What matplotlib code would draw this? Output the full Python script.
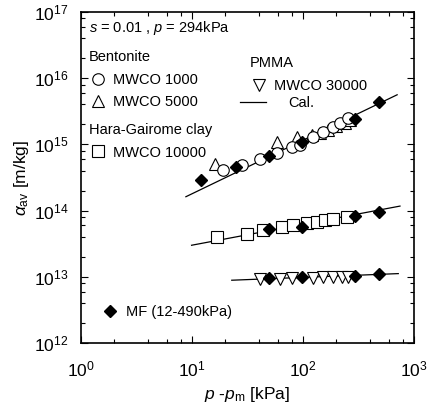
import matplotlib
matplotlib.use('Agg')
from matplotlib import pyplot as plt
from matplotlib.lines import Line2D
from matplotlib.ticker import LogLocator, NullFormatter

plt.rcParams['font.family'] = ['Liberation Sans', 'DejaVu Sans']
plt.rcParams['mathtext.fontset'] = 'custom'
plt.rcParams['mathtext.rm'] = 'Liberation Sans'
plt.rcParams['mathtext.it'] = 'Liberation Sans:italic'
plt.rcParams['mathtext.bf'] = 'Liberation Sans:bold'

# data: p - pm [kPa] vs alpha_av [m/kg]
bent1000_dp = [19, 28, 41, 58, 79, 94, 123, 152, 187, 215, 254]
bent1000_alpha = [4.1e14, 4.8e14, 6.0e14, 7.3e14, 9.2e14, 9.8e14, 1.31e15, 1.56e15, 1.85e15, 2.13e15, 2.47e15]

bent5000_dp = [16, 58, 88, 120, 142, 168, 200, 239, 265]
bent5000_alpha = [5.1e14, 1.07e15, 1.3e15, 1.38e15, 1.5e15, 1.66e15, 1.88e15, 2.1e15, 2.35e15]

clay_dp = [16.7, 31, 44, 64, 82, 108, 133, 158, 187, 248]
clay_alpha = [4.0e13, 4.5e13, 5.1e13, 5.7e13, 6.0e13, 6.4e13, 6.7e13, 7.1e13, 7.6e13, 8.1e13]

pmma_dp = [41, 62, 79, 123, 152, 187, 223, 254]
pmma_alpha = [9.2e12, 9.4e12, 9.5e12, 9.7e12, 9.8e12, 9.9e12, 1.0e13, 1.0e13]

mf_bent_dp = [12, 25, 49, 97, 294, 487]
mf_bent_alpha = [2.9e14, 4.5e14, 6.6e14, 1.07e15, 2.45e15, 4.3e15]
mf_clay_dp = [49, 97, 294, 487]
mf_clay_alpha = [5.2e13, 5.7e13, 8.3e13, 9.6e13]
mf_pmma_dp = [49, 97, 294, 487]
mf_pmma_alpha = [9.5e12, 1.0e13, 1.02e13, 1.1e13]

# calculated lines (straight in log-log)
cal_bent_dp = [8.8, 705]
cal_bent_alpha = [1.62e14, 5.6e15]
cal_clay_dp = [9.9, 748]
cal_clay_alpha = [3.0e13, 1.17e14]
cal_pmma_dp = [22.8, 722]
cal_pmma_alpha = [8.9e12, 1.12e13]

fig = plt.figure(figsize=(4.29, 4.08), dpi=100)
ax = fig.add_axes([0.189, 0.159, 0.776, 0.812])

open_kw = dict(linestyle='none', markerfacecolor='white', markeredgecolor='black', markeredgewidth=0.8)
mf_kw = dict(linestyle='none', marker='D', markersize=6.3, color='black', zorder=5)

for dp, a in [(cal_bent_dp, cal_bent_alpha), (cal_clay_dp, cal_clay_alpha), (cal_pmma_dp, cal_pmma_alpha)]:
    ax.plot(dp, a, color='black', linewidth=0.9, zorder=2)

ax.plot(bent5000_dp, bent5000_alpha, marker='^', markersize=8.5, zorder=3, **open_kw)
ax.plot(bent1000_dp, bent1000_alpha, marker='o', markersize=8.3, zorder=3, **open_kw)
ax.plot(clay_dp, clay_alpha, marker='s', markersize=8.5, zorder=3, **open_kw)
ax.plot(pmma_dp, pmma_alpha, marker='v', markersize=8.5, zorder=3, **open_kw)
ax.plot(mf_bent_dp, mf_bent_alpha, **mf_kw)
ax.plot(mf_clay_dp, mf_clay_alpha, **mf_kw)
ax.plot(mf_pmma_dp, mf_pmma_alpha, **mf_kw)

ax.set_xscale('log')
ax.set_yscale('log')
ax.set_xlim(1, 1000)
ax.set_ylim(1e12, 1e17)
ax.xaxis.set_minor_locator(LogLocator(base=10, subs=[2, 4, 6, 8]))
ax.yaxis.set_minor_locator(LogLocator(base=10, subs=[2, 4, 6, 8]))
ax.xaxis.set_minor_formatter(NullFormatter())
ax.yaxis.set_minor_formatter(NullFormatter())
ax.tick_params(which='both', direction='in', top=True, right=True, width=0.8)
ax.tick_params(which='major', length=5, labelsize=12.5)
ax.tick_params(axis='x', which='major', pad=12)
ax.tick_params(axis='y', which='major', pad=9)
ax.tick_params(which='minor', length=3)
for s in ax.spines.values():
    s.set_linewidth(1.2)

ax.set_xlabel(r'$p$ -$p_{\rm m}$ [kPa]', fontsize=12.5, labelpad=4)
ax.set_ylabel(r'$\alpha_{\rm av}$ [m/kg]', fontsize=12.5, labelpad=2)

ax.text(0.024, 0.952, r'$s$ = 0.01 , $p$ = 294kPa', transform=ax.transAxes,
        fontsize=10.5, va='center', ha='left')

leg_kw = dict(frameon=False, fontsize=10.5, title_fontsize=10.5, alignment='left',
              borderpad=0, borderaxespad=0, handletextpad=0.45, handlelength=1.2,
              labelspacing=0.6, loc='upper left')


def h(marker, ms):
    return Line2D([], [], marker=marker, markersize=ms, **open_kw)


leg1 = ax.legend([h('o', 8.3), h('^', 8.5)], ['MWCO 1000', 'MWCO 5000'], title='Bentonite',
                 bbox_to_anchor=(0.024, 0.885), **leg_kw)
ax.add_artist(leg1)
leg2 = ax.legend([h('s', 8.5)], ['MWCO 10000'], title='Hara-Gairome clay',
                 bbox_to_anchor=(0.024, 0.665), **leg_kw)
ax.add_artist(leg2)
leg3 = ax.legend([h('v', 8.5)], ['MWCO 30000'], title='PMMA',
                 bbox_to_anchor=(0.508, 0.866), **leg_kw)
ax.add_artist(leg3)
cal_kw = dict(leg_kw)
cal_kw.update(handlelength=1.8, handletextpad=1.5)
leg4 = ax.legend([Line2D([], [], color='black', linewidth=0.9)], ['Cal.'],
                 bbox_to_anchor=(0.477, 0.745), **cal_kw)
ax.add_artist(leg4)
mf_leg_kw = dict(leg_kw)
mf_leg_kw.update(handletextpad=0.5)
leg5 = ax.legend([Line2D([], [], **mf_kw)], ['MF (12-490kPa)'],
                 bbox_to_anchor=(0.06, 0.115), **mf_leg_kw)

fig.savefig('out.png', dpi=100)
